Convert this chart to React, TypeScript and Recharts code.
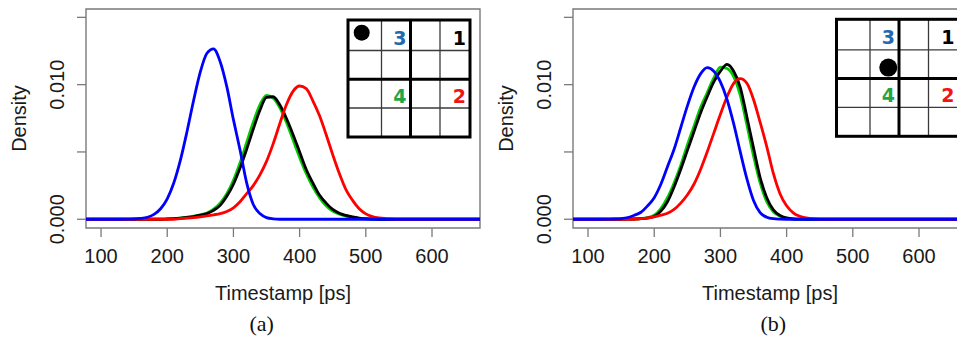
import React from 'react';
import { LineChart, Line, XAxis, YAxis, ReferenceArea } from 'recharts';

// ---------- data (densities) ----------
const TIMESTAMPS = [
  70, 80, 90, 100, 110, 120, 130, 140, 150, 160, 170, 180, 190, 200, 210, 220, 230, 240, 250, 260,
  270, 280, 290, 300, 310, 320, 330, 340, 350, 360, 370, 380, 390, 400, 410, 420, 430, 440, 450, 460,
  470, 480, 490, 500, 510, 520, 530, 540, 550, 560, 570, 580, 590, 600, 610, 620, 630, 640, 650, 660,
  670, 680,
];

// panel (a)
const A_PORT3 = [
  0, 0, 0, 0, 0, 0, 0, 0.00001, 0.00002, 0.00006, 0.00015, 0.00036, 0.00078, 0.00152, 0.00271, 0.00441, 0.00654, 0.00886, 0.01095, 0.01233,
  0.01266, 0.0117, 0.00985, 0.0074, 0.00515, 0.0027, 0.0011, 0.00042, 0.00012, 0.00003, 0, 0, 0, 0, 0, 0, 0, 0, 0, 0,
  0, 0, 0, 0, 0, 0, 0, 0, 0, 0, 0, 0, 0, 0, 0, 0, 0, 0, 0, 0,
  0, 0,
];
const A_PORT4 = [
  0, 0, 0, 0, 0, 0, 0, 0, 0, 0, 0, 0, 0, 0.00003, 0.00005, 0.00009, 0.00015, 0.00023, 0.00033, 0.00047,
  0.00076, 0.0012, 0.0019, 0.0029, 0.0042, 0.0057, 0.0072, 0.0085, 0.0092, 0.009, 0.0083, 0.0072, 0.0059, 0.0046, 0.0034, 0.0024, 0.0016, 0.001, 0.0006, 0.00038,
  0.00024, 0.00013, 0.00007, 0.00003, 0.00001, 0, 0, 0, 0, 0, 0, 0, 0, 0, 0, 0, 0, 0, 0, 0,
  0, 0,
];
const A_PORT1 = [
  0, 0, 0, 0, 0, 0, 0, 0, 0, 0, 0, 0, 0, 0.00002, 0.00004, 0.00008, 0.00013, 0.0002, 0.0003, 0.00042,
  0.00066, 0.00103, 0.0017, 0.0026, 0.0038, 0.0052, 0.0067, 0.0081, 0.00905, 0.0091, 0.0085, 0.0075, 0.0063, 0.005, 0.0037, 0.0027, 0.0018, 0.0012, 0.00073, 0.00045,
  0.00029, 0.00017, 0.00009, 0.00004, 0.00002, 0, 0, 0, 0, 0, 0, 0, 0, 0, 0, 0, 0, 0, 0, 0,
  0, 0,
];
const A_PORT2 = [
  0, 0, 0, 0, 0, 0, 0, 0, 0, 0, 0, 0, 0, 0, 0, 0.00005, 0.00008, 0.00012, 0.00018, 0.00025,
  0.00033, 0.00042, 0.00058, 0.00085, 0.0013, 0.0019, 0.0025, 0.0033, 0.0043, 0.0056, 0.0071, 0.0085, 0.0095, 0.0099, 0.0097, 0.0088, 0.0077, 0.0063, 0.0048, 0.0034,
  0.0022, 0.0014, 0.00078, 0.0004, 0.0002, 0.0001, 0.00005, 0.00002, 0, 0, 0, 0, 0, 0, 0, 0, 0, 0, 0, 0,
  0, 0,
];

// panel (b)
const B_PORT3 = [
  0, 0, 0, 0, 0, 0, 0.00001, 0.00002, 0.00005, 0.00013, 0.0003, 0.00052, 0.001, 0.0016, 0.0026, 0.0039, 0.0052, 0.0068, 0.0084, 0.0098,
  0.0108, 0.01126, 0.011, 0.0102, 0.0089, 0.0071, 0.005, 0.003, 0.0014, 0.0005, 0.00015, 0.00004, 0.00001, 0, 0, 0, 0, 0, 0, 0,
  0, 0, 0, 0, 0, 0, 0, 0, 0, 0, 0, 0, 0, 0, 0, 0, 0, 0, 0, 0,
  0, 0,
];
const B_PORT4 = [
  0, 0, 0, 0, 0, 0, 0, 0, 0, 0.00001, 0.00002, 0.00005, 0.00012, 0.0003, 0.0008, 0.0016, 0.0027, 0.004, 0.0055, 0.0069,
  0.0083, 0.0094, 0.0105, 0.0113, 0.0112, 0.0106, 0.0092, 0.007, 0.0047, 0.0027, 0.0013, 0.00055, 0.00022, 0.00008, 0.00002, 0, 0, 0, 0, 0,
  0, 0, 0, 0, 0, 0, 0, 0, 0, 0, 0, 0, 0, 0, 0, 0, 0, 0, 0, 0,
  0, 0,
];
const B_PORT1 = [
  0, 0, 0, 0, 0, 0, 0, 0, 0, 0.00001, 0.00002, 0.00004, 0.00009, 0.0002, 0.0006, 0.0013, 0.0024, 0.0037, 0.0051, 0.0065,
  0.0079, 0.0091, 0.0102, 0.011, 0.0115, 0.011, 0.0098, 0.0076, 0.0053, 0.0031, 0.0016, 0.0007, 0.00028, 0.0001, 0.00003, 0.00001, 0, 0, 0, 0,
  0, 0, 0, 0, 0, 0, 0, 0, 0, 0, 0, 0, 0, 0, 0, 0, 0, 0, 0, 0,
  0, 0,
];
const B_PORT2 = [
  0, 0, 0, 0, 0, 0, 0, 0, 0, 0, 0, 0.00004, 0.0001, 0.00018, 0.0003, 0.00045, 0.00073, 0.0012, 0.0018, 0.0026,
  0.0037, 0.005, 0.0064, 0.0078, 0.0091, 0.0101, 0.01045, 0.0101, 0.0089, 0.0072, 0.0054, 0.0034, 0.0019, 0.001, 0.00048, 0.00022, 0.0001, 0.00004, 0.00001, 0,
  0, 0, 0, 0, 0, 0, 0, 0, 0, 0, 0, 0, 0, 0, 0, 0, 0, 0, 0, 0,
  0, 0,
];

const X_TICKS = [100, 200, 300, 400, 500, 600];
const Y_TICKS = [0, 0.005, 0.01, 0.015];
const Y_TICK_LABELS = ['0.000', '', '0.010', ''];
const X_DOMAIN: [number, number] = [77.3, 672.5];
const Y_DOMAIN: [number, number] = [-0.00065, 0.01562];

const X_TITLE = 'Timestamp [ps]';
const Y_TITLE = 'Density';
const CAPTIONS = ['(a)', '(b)'];

// inset board: labels per cell
const BOARD_LABELS = [
  { row: 0, col: 1, text: '3', color: '#2169b0' },
  { row: 0, col: 3, text: '1', color: '#000000' },
  { row: 2, col: 1, text: '4', color: '#1fa646' },
  { row: 2, col: 3, text: '2', color: '#f01414' },
];

// ---------- styles ----------
const COLORS = { p1: '#000000', p2: '#ff0000', p3: '#0000ff', p4: '#00cc00' };
const AXIS_GRAY = '#7a7a7a';
const SANS = '"Liberation Sans", Arial, Helvetica, sans-serif';
const SERIF = '"Liberation Serif", "Times New Roman", serif';
const BOLD = '"DejaVu Sans", Verdana, sans-serif';

const buildTable = (p1: number[], p2: number[], p3: number[], p4: number[]) =>
  TIMESTAMPS.map((t, i) => ({ t, p1: p1[i], p2: p2[i], p3: p3[i], p4: p4[i] }));

const DATA_A = buildTable(A_PORT1, A_PORT2, A_PORT3, A_PORT4);
const DATA_B = buildTable(B_PORT1, B_PORT2, B_PORT3, B_PORT4);

const XTick = (props: any) => {
  const { x, y, payload } = props;
  return (
    <text x={x} y={y + 26} textAnchor="middle" fontFamily={SANS} fontSize={20} fill="#1a1a1a">
      {payload.value}
    </text>
  );
};

const YTick = (props: any) => {
  const { x, y, payload } = props;
  const idx = Y_TICKS.indexOf(payload.value);
  const label = idx >= 0 ? Y_TICK_LABELS[idx] : '';
  if (!label) return <g />;
  const cx = x - 12.5;
  return (
    <text
      x={cx}
      y={y}
      transform={`rotate(-90, ${cx}, ${y})`}
      textAnchor="middle"
      fontFamily={SANS}
      fontSize={20}
      fill="#1a1a1a"
    >
      {label}
    </text>
  );
};

const xTitle = (props: any) => {
  const vb = props.viewBox || { x: 86, y: 228, width: 394, height: 1 };
  return (
    <text x={vb.x + vb.width / 2} y={vb.y + 71.5} textAnchor="middle" fontFamily={SANS} fontSize={20} fill="#1a1a1a">
      {X_TITLE}
    </text>
  );
};

const yTitle = (props: any) => {
  const vb = props.viewBox || { x: 85, y: 9, width: 1, height: 219 };
  const cx = vb.x + vb.width - 60.5;
  const cy = vb.y + vb.height / 2;
  return (
    <text x={cx} y={cy} transform={`rotate(-90, ${cx}, ${cy})`} textAnchor="middle" fontFamily={SANS} fontSize={20} fill="#1a1a1a">
      {Y_TITLE}
    </text>
  );
};

const DensityPanel = ({ data, left }: { data: any[]; left: number }) => (
  <div style={{ position: 'absolute', left, top: 0 }}>
    <LineChart width={490} height={340} data={data} margin={{ top: 9, right: 10, bottom: 111, left: 85 }}>
      <XAxis
        dataKey="t"
        type="number"
        domain={X_DOMAIN}
        allowDataOverflow
        ticks={X_TICKS}
        interval={0}
        height={1}
        axisLine={false}
        tickSize={9}
        tickMargin={0}
        tickLine={{ stroke: AXIS_GRAY, strokeWidth: 1.3 }}
        tick={<XTick />}
        label={xTitle}
      />
      <YAxis
        type="number"
        domain={Y_DOMAIN}
        allowDataOverflow
        ticks={Y_TICKS}
        interval={0}
        width={1}
        axisLine={false}
        tickSize={9}
        tickMargin={0}
        tickLine={{ stroke: AXIS_GRAY, strokeWidth: 1.3 }}
        tick={<YTick />}
        label={yTitle}
      />
      <ReferenceArea
        x1={X_DOMAIN[0]}
        x2={X_DOMAIN[1]}
        y1={Y_DOMAIN[0]}
        y2={Y_DOMAIN[1]}
        fill="none"
        fillOpacity={0}
        stroke={AXIS_GRAY}
        strokeWidth={1.4}
        ifOverflow="visible"
      />
      <Line type="monotone" dataKey="p4" stroke={COLORS.p4} strokeWidth={2.8} dot={false} activeDot={false} isAnimationActive={false} />
      <Line type="monotone" dataKey="p1" stroke={COLORS.p1} strokeWidth={2.8} dot={false} activeDot={false} isAnimationActive={false} />
      <Line type="monotone" dataKey="p2" stroke={COLORS.p2} strokeWidth={2.8} dot={false} activeDot={false} isAnimationActive={false} />
      <Line type="monotone" dataKey="p3" stroke={COLORS.p3} strokeWidth={2.8} dot={false} activeDot={false} isAnimationActive={false} />
    </LineChart>
  </div>
);

// inset board drawing (picture annotation, not data)
const COLS = [0, 33.5, 62.5, 92, 122];
const ROWS = [0, 30.5, 59.3, 88, 117];

const Board = ({ x, y, dot }: { x: number; y: number; dot: { row: number; col: number; dx: number; dy: number; r: number } }) => {
  const W = COLS[4];
  const H = ROWS[4];
  return (
    <g transform={`translate(${x}, ${y})`}>
      <rect x={0} y={0} width={W} height={H} fill="#ffffff" />
      {[1, 3].map((i) => (
        <line key={'vc' + i} x1={COLS[i]} x2={COLS[i]} y1={0} y2={H} stroke="#3a3a3a" strokeWidth={1.3} />
      ))}
      {[1, 3].map((i) => (
        <line key={'hr' + i} x1={0} x2={W} y1={ROWS[i]} y2={ROWS[i]} stroke="#3a3a3a" strokeWidth={1.3} />
      ))}
      <line x1={COLS[2]} x2={COLS[2]} y1={0} y2={H} stroke="#000" strokeWidth={3} />
      <line x1={0} x2={W} y1={ROWS[2]} y2={ROWS[2]} stroke="#000" strokeWidth={3} />
      <rect x={0} y={0} width={W} height={H} fill="none" stroke="#000" strokeWidth={3} />
      {BOARD_LABELS.map((l) => (
        <text
          key={l.text}
          x={COLS[l.col + 1] - 4}
          y={ROWS[l.row + 1] - 5.5}
          textAnchor="end"
          fontFamily={BOLD}
          fontWeight="bold"
          fontSize={19}
          fill={l.color}
        >
          {l.text}
        </text>
      ))}
      <circle cx={COLS[dot.col] + dot.dx} cy={ROWS[dot.row] + dot.dy} r={dot.r} fill="#000" />
    </g>
  );
};

export default function App() {
  return (
    <div style={{ position: 'absolute', left: 0, top: 0, width: 957, height: 340, overflow: 'hidden', background: '#ffffff' }}>
      <DensityPanel data={DATA_A} left={0} />
      <DensityPanel data={DATA_B} left={487.3} />
      <svg width={957} height={340} style={{ position: 'absolute', left: 0, top: 0, pointerEvents: 'none' }}>
        <Board x={348} y={20} dot={{ row: 0, col: 0, dx: 13.7, dy: 12.7, r: 8 }} />
        <Board x={836.5} y={19.3} dot={{ row: 1, col: 1, dx: 18.3, dy: 17.8, r: 9 }} />
        <text x={261.7} y={331} textAnchor="middle" fontFamily={SERIF} fontSize={22} fill="#111">
          {CAPTIONS[0]}
        </text>
        <text x={773.3} y={331} textAnchor="middle" fontFamily={SERIF} fontSize={22} fill="#111">
          {CAPTIONS[1]}
        </text>
      </svg>
    </div>
  );
}
